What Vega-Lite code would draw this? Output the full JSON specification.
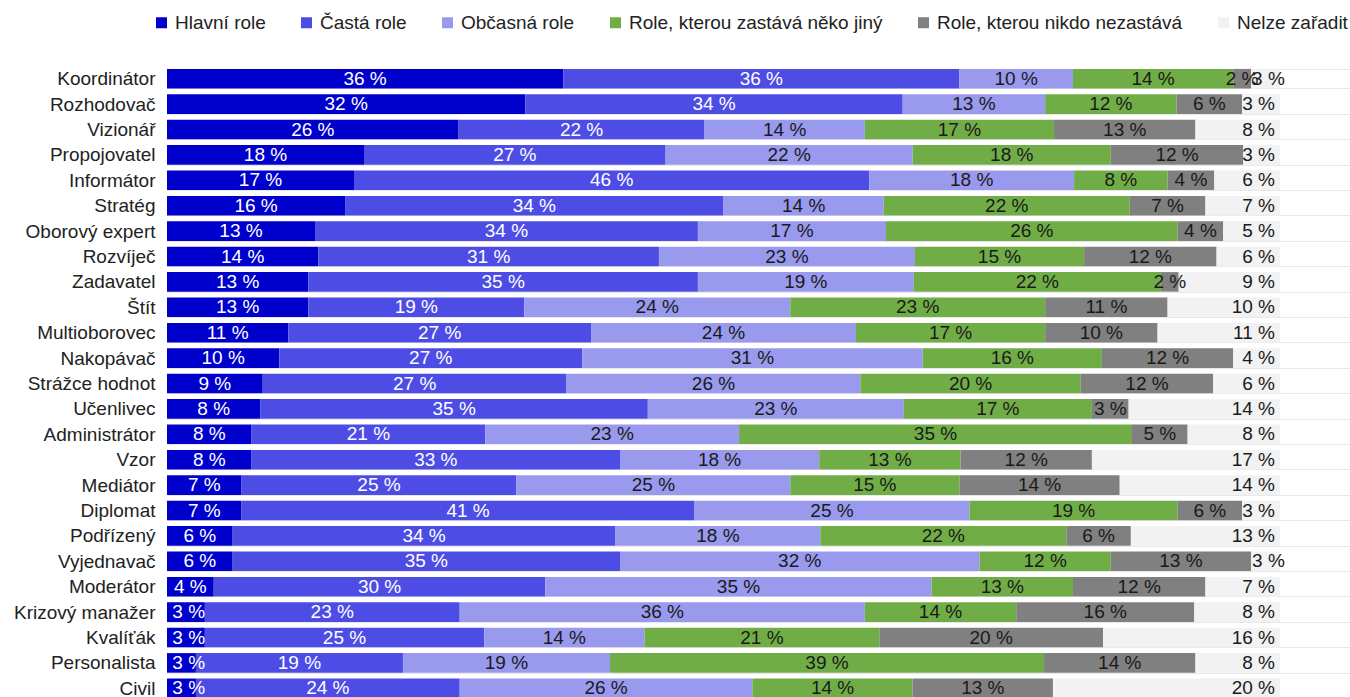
{
  "$schema": "https://vega.github.io/schema/vega-lite/v6.json",
  "autosize": {"type": "none"},
  "padding": {"left": 167, "top": 66, "right": 0, "bottom": 0},
  "width": 1183,
  "height": 635,
  "background": "white",
  "config": {"view": {"stroke": null}, "font": "Liberation Sans"},
  "datasets": {
    "roles": [
      {"r": "Koordinátor", "k": "Hlavní role", "v": 35.6}, {"r": "Koordinátor", "k": "Častá role", "v": 35.6}, {"r": "Koordinátor", "k": "Občasná role", "v": 10.2}, {"r": "Koordinátor", "k": "Role, kterou zastává něko jiný", "v": 14.4}, {"r": "Koordinátor", "k": "Role, kterou nikdo nezastává", "v": 1.6}, {"r": "Koordinátor", "k": "Nelze zařadit", "v": 2.6},
      {"r": "Rozhodovač", "k": "Hlavní role", "v": 32.2}, {"r": "Rozhodovač", "k": "Častá role", "v": 33.9}, {"r": "Rozhodovač", "k": "Občasná role", "v": 12.8}, {"r": "Rozhodovač", "k": "Role, kterou zastává něko jiný", "v": 11.8}, {"r": "Rozhodovač", "k": "Role, kterou nikdo nezastává", "v": 5.9}, {"r": "Rozhodovač", "k": "Nelze zařadit", "v": 3.4},
      {"r": "Vizionář", "k": "Hlavní role", "v": 26.2}, {"r": "Vizionář", "k": "Častá role", "v": 22.1}, {"r": "Vizionář", "k": "Občasná role", "v": 14.4}, {"r": "Vizionář", "k": "Role, kterou zastává něko jiný", "v": 17.0}, {"r": "Vizionář", "k": "Role, kterou nikdo nezastává", "v": 12.7}, {"r": "Vizionář", "k": "Nelze zařadit", "v": 7.6},
      {"r": "Propojovatel", "k": "Hlavní role", "v": 17.7}, {"r": "Propojovatel", "k": "Častá role", "v": 27.1}, {"r": "Propojovatel", "k": "Občasná role", "v": 22.2}, {"r": "Propojovatel", "k": "Role, kterou zastává něko jiný", "v": 17.8}, {"r": "Propojovatel", "k": "Role, kterou nikdo nezastává", "v": 11.9}, {"r": "Propojovatel", "k": "Nelze zařadit", "v": 3.3},
      {"r": "Informátor", "k": "Hlavní role", "v": 16.8}, {"r": "Informátor", "k": "Častá role", "v": 46.3}, {"r": "Informátor", "k": "Občasná role", "v": 18.4}, {"r": "Informátor", "k": "Role, kterou zastává něko jiný", "v": 8.4}, {"r": "Informátor", "k": "Role, kterou nikdo nezastává", "v": 4.2}, {"r": "Informátor", "k": "Nelze zařadit", "v": 5.9},
      {"r": "Stratég", "k": "Hlavní role", "v": 16.0}, {"r": "Stratég", "k": "Častá role", "v": 34.0}, {"r": "Stratég", "k": "Občasná role", "v": 14.4}, {"r": "Stratég", "k": "Role, kterou zastává něko jiný", "v": 22.1}, {"r": "Stratég", "k": "Role, kterou nikdo nezastává", "v": 6.8}, {"r": "Stratég", "k": "Nelze zařadit", "v": 6.7},
      {"r": "Oborový expert", "k": "Hlavní role", "v": 13.3}, {"r": "Oborový expert", "k": "Častá role", "v": 34.4}, {"r": "Oborový expert", "k": "Občasná role", "v": 16.9}, {"r": "Oborový expert", "k": "Role, kterou zastává něko jiný", "v": 26.2}, {"r": "Oborový expert", "k": "Role, kterou nikdo nezastává", "v": 4.1}, {"r": "Oborový expert", "k": "Nelze zařadit", "v": 5.1},
      {"r": "Rozvíječ", "k": "Hlavní role", "v": 13.6}, {"r": "Rozvíječ", "k": "Častá role", "v": 30.6}, {"r": "Rozvíječ", "k": "Občasná role", "v": 23.0}, {"r": "Rozvíječ", "k": "Role, kterou zastává něko jiný", "v": 15.2}, {"r": "Rozvíječ", "k": "Role, kterou nikdo nezastává", "v": 11.9}, {"r": "Rozvíječ", "k": "Nelze zařadit", "v": 5.7},
      {"r": "Zadavatel", "k": "Hlavní role", "v": 12.7}, {"r": "Zadavatel", "k": "Častá role", "v": 35.0}, {"r": "Zadavatel", "k": "Občasná role", "v": 19.4}, {"r": "Zadavatel", "k": "Role, kterou zastává něko jiný", "v": 22.2}, {"r": "Zadavatel", "k": "Role, kterou nikdo nezastává", "v": 1.6}, {"r": "Zadavatel", "k": "Nelze zařadit", "v": 9.1},
      {"r": "Štít", "k": "Hlavní role", "v": 12.7}, {"r": "Štít", "k": "Častá role", "v": 19.4}, {"r": "Štít", "k": "Občasná role", "v": 23.9}, {"r": "Štít", "k": "Role, kterou zastává něko jiný", "v": 22.9}, {"r": "Štít", "k": "Role, kterou nikdo nezastává", "v": 11.0}, {"r": "Štít", "k": "Nelze zařadit", "v": 10.1},
      {"r": "Multioborovec", "k": "Hlavní role", "v": 10.9}, {"r": "Multioborovec", "k": "Častá role", "v": 27.2}, {"r": "Multioborovec", "k": "Občasná role", "v": 23.8}, {"r": "Multioborovec", "k": "Role, kterou zastává něko jiný", "v": 17.0}, {"r": "Multioborovec", "k": "Role, kterou nikdo nezastává", "v": 10.1}, {"r": "Multioborovec", "k": "Nelze zařadit", "v": 11.0},
      {"r": "Nakopávač", "k": "Hlavní role", "v": 10.1}, {"r": "Nakopávač", "k": "Častá role", "v": 27.2}, {"r": "Nakopávač", "k": "Občasná role", "v": 30.6}, {"r": "Nakopávač", "k": "Role, kterou zastává něko jiný", "v": 16.1}, {"r": "Nakopávač", "k": "Role, kterou nikdo nezastává", "v": 11.8}, {"r": "Nakopávač", "k": "Nelze zařadit", "v": 4.2},
      {"r": "Strážce hodnot", "k": "Hlavní role", "v": 8.6}, {"r": "Strážce hodnot", "k": "Častá role", "v": 27.3}, {"r": "Strážce hodnot", "k": "Občasná role", "v": 26.4}, {"r": "Strážce hodnot", "k": "Role, kterou zastává něko jiný", "v": 19.8}, {"r": "Strážce hodnot", "k": "Role, kterou nikdo nezastává", "v": 11.9}, {"r": "Strážce hodnot", "k": "Nelze zařadit", "v": 6.0},
      {"r": "Učenlivec", "k": "Hlavní role", "v": 8.4}, {"r": "Učenlivec", "k": "Častá role", "v": 34.8}, {"r": "Učenlivec", "k": "Občasná role", "v": 23.0}, {"r": "Učenlivec", "k": "Role, kterou zastává něko jiný", "v": 16.9}, {"r": "Učenlivec", "k": "Role, kterou nikdo nezastává", "v": 3.3}, {"r": "Učenlivec", "k": "Nelze zařadit", "v": 13.6},
      {"r": "Administrátor", "k": "Hlavní role", "v": 7.6}, {"r": "Administrátor", "k": "Častá role", "v": 21.0}, {"r": "Administrátor", "k": "Občasná role", "v": 22.8}, {"r": "Administrátor", "k": "Role, kterou zastává něko jiný", "v": 35.3}, {"r": "Administrátor", "k": "Role, kterou nikdo nezastává", "v": 5.0}, {"r": "Administrátor", "k": "Nelze zařadit", "v": 8.3},
      {"r": "Vzor", "k": "Hlavní role", "v": 7.6}, {"r": "Vzor", "k": "Častá role", "v": 33.1}, {"r": "Vzor", "k": "Občasná role", "v": 17.9}, {"r": "Vzor", "k": "Role, kterou zastává něko jiný", "v": 12.7}, {"r": "Vzor", "k": "Role, kterou nikdo nezastává", "v": 11.8}, {"r": "Vzor", "k": "Nelze zařadit", "v": 16.9},
      {"r": "Mediátor", "k": "Hlavní role", "v": 6.7}, {"r": "Mediátor", "k": "Častá role", "v": 24.7}, {"r": "Mediátor", "k": "Občasná role", "v": 24.6}, {"r": "Mediátor", "k": "Role, kterou zastává něko jiný", "v": 15.2}, {"r": "Mediátor", "k": "Role, kterou nikdo nezastává", "v": 14.4}, {"r": "Mediátor", "k": "Nelze zařadit", "v": 14.4},
      {"r": "Diplomat", "k": "Hlavní role", "v": 6.7}, {"r": "Diplomat", "k": "Častá role", "v": 40.7}, {"r": "Diplomat", "k": "Občasná role", "v": 24.7}, {"r": "Diplomat", "k": "Role, kterou zastává něko jiný", "v": 18.7}, {"r": "Diplomat", "k": "Role, kterou nikdo nezastává", "v": 5.8}, {"r": "Diplomat", "k": "Nelze zařadit", "v": 3.4},
      {"r": "Podřízený", "k": "Hlavní role", "v": 5.9}, {"r": "Podřízený", "k": "Častá role", "v": 34.4}, {"r": "Podřízený", "k": "Občasná role", "v": 18.4}, {"r": "Podřízený", "k": "Role, kterou zastává něko jiný", "v": 22.1}, {"r": "Podřízený", "k": "Role, kterou nikdo nezastává", "v": 5.8}, {"r": "Podřízený", "k": "Nelze zařadit", "v": 13.4},
      {"r": "Vyjednavač", "k": "Hlavní role", "v": 5.9}, {"r": "Vyjednavač", "k": "Častá role", "v": 34.8}, {"r": "Vyjednavač", "k": "Občasná role", "v": 32.3}, {"r": "Vyjednavač", "k": "Role, kterou zastává něko jiný", "v": 11.8}, {"r": "Vyjednavač", "k": "Role, kterou nikdo nezastává", "v": 12.6}, {"r": "Vyjednavač", "k": "Nelze zařadit", "v": 2.6},
      {"r": "Moderátor", "k": "Hlavní role", "v": 4.2}, {"r": "Moderátor", "k": "Častá role", "v": 29.8}, {"r": "Moderátor", "k": "Občasná role", "v": 34.7}, {"r": "Moderátor", "k": "Role, kterou zastává něko jiný", "v": 12.7}, {"r": "Moderátor", "k": "Role, kterou nikdo nezastává", "v": 11.9}, {"r": "Moderátor", "k": "Nelze zařadit", "v": 6.7},
      {"r": "Krizový manažer", "k": "Hlavní role", "v": 3.4}, {"r": "Krizový manažer", "k": "Častá role", "v": 22.9}, {"r": "Krizový manažer", "k": "Občasná role", "v": 36.4}, {"r": "Krizový manažer", "k": "Role, kterou zastává něko jiný", "v": 13.6}, {"r": "Krizový manažer", "k": "Role, kterou nikdo nezastává", "v": 16.0}, {"r": "Krizový manažer", "k": "Nelze zařadit", "v": 7.7},
      {"r": "Kvalíťák", "k": "Hlavní role", "v": 3.4}, {"r": "Kvalíťák", "k": "Častá role", "v": 25.1}, {"r": "Kvalíťák", "k": "Občasná role", "v": 14.4}, {"r": "Kvalíťák", "k": "Role, kterou zastává něko jiný", "v": 21.1}, {"r": "Kvalíťák", "k": "Role, kterou nikdo nezastává", "v": 20.1}, {"r": "Kvalíťák", "k": "Nelze zařadit", "v": 15.9},
      {"r": "Personalista", "k": "Hlavní role", "v": 2.6}, {"r": "Personalista", "k": "Častá role", "v": 18.6}, {"r": "Personalista", "k": "Občasná role", "v": 18.6}, {"r": "Personalista", "k": "Role, kterou zastává něko jiný", "v": 39.0}, {"r": "Personalista", "k": "Role, kterou nikdo nezastává", "v": 13.6}, {"r": "Personalista", "k": "Nelze zařadit", "v": 7.6},
      {"r": "Civil", "k": "Hlavní role", "v": 2.6}, {"r": "Civil", "k": "Častá role", "v": 23.7}, {"r": "Civil", "k": "Občasná role", "v": 26.3}, {"r": "Civil", "k": "Role, kterou zastává něko jiný", "v": 14.4}, {"r": "Civil", "k": "Role, kterou nikdo nezastává", "v": 12.6}, {"r": "Civil", "k": "Nelze zařadit", "v": 20.4}
    ]
  },
  "data": {"name": "roles"},
  "transform": [
    {"calculate": "indexof(['Hlavní role','Častá role','Občasná role','Role, kterou zastává něko jiný','Role, kterou nikdo nezastává','Nelze zařadit'], datum.k)", "as": "ord"},
    {"stack": "v", "groupby": ["r"], "sort": [{"field": "ord", "order": "ascending"}], "offset": "normalize", "as": ["x0", "x1"]},
    {"calculate": "datum.ord == 0 ? max((datum.x0 + datum.x1) / 2, 0.0195) : (datum.x0 + datum.x1) / 2", "as": "xm"},
    {"calculate": "format(datum.v, '.0f') + ' %'", "as": "lab"}
  ],
  "encoding": {
    "y": {
      "field": "r", "type": "nominal", "sort": null,
      "scale": {"paddingInner": 0.23, "paddingOuter": 0.115},
      "axis": {"title": null, "domain": false, "ticks": false, "labelPadding": 12, "labelFontSize": 19, "labelFont": "Liberation Sans", "labelColor": "#222222", "labelLimit": 300, "grid": true, "gridColor": "#e8e8e8", "tickBand": "extent"}
    }
  },
  "layer": [
    {
      "mark": {"type": "bar"},
      "encoding": {
        "x": {"field": "x0", "type": "quantitative", "scale": {"domain": [0, 1.0629], "nice": false}, "axis": null},
        "x2": {"field": "x1"},
        "color": {
          "field": "k", "type": "nominal",
          "scale": {"domain": ["Hlavní role", "Častá role", "Občasná role", "Role, kterou zastává něko jiný", "Role, kterou nikdo nezastává", "Nelze zařadit"], "range": ["#0000cc", "#4d4de6", "#9999ee", "#70ad47", "#808080", "#f2f2f2"]},
          "legend": {"orient": "none", "legendX": -15, "legendY": -53, "direction": "horizontal", "columns": 6, "title": null, "symbolType": "square", "symbolSize": 121, "symbolStrokeWidth": 0, "labelFontSize": 19, "labelFont": "Liberation Sans", "labelColor": "#222222", "labelOffset": 4, "columnPadding": 31, "labelLimit": 400}
        }
      }
    },
    {
      "transform": [{"filter": "datum.ord <= 1"}],
      "mark": {"type": "text", "color": "#ffffff", "fontSize": 19, "font": "Liberation Sans", "baseline": "middle", "align": "center"},
      "encoding": {"x": {"field": "xm", "type": "quantitative", "scale": {"domain": [0, 1.0629], "nice": false}}, "text": {"field": "lab"}}
    },
    {
      "transform": [{"filter": "datum.ord >= 2 && datum.ord <= 4"}],
      "mark": {"type": "text", "color": "#1a1a1a", "fontSize": 19, "font": "Liberation Sans", "baseline": "middle", "align": "center"},
      "encoding": {"x": {"field": "xm", "type": "quantitative", "scale": {"domain": [0, 1.0629], "nice": false}}, "text": {"field": "lab"}}
    },
    {
      "transform": [{"filter": "datum.ord == 5 && datum.v >= 3"}],
      "mark": {"type": "text", "color": "#1a1a1a", "fontSize": 19, "font": "Liberation Sans", "baseline": "middle", "align": "right", "dx": -5},
      "encoding": {"x": {"field": "x1", "type": "quantitative", "scale": {"domain": [0, 1.0629], "nice": false}}, "text": {"field": "lab"}}
    },
    {
      "transform": [{"filter": "datum.ord == 5 && datum.v < 3"}],
      "mark": {"type": "text", "color": "#1a1a1a", "fontSize": 19, "font": "Liberation Sans", "baseline": "middle", "align": "left", "dx": 1},
      "encoding": {"x": {"field": "x0", "type": "quantitative", "scale": {"domain": [0, 1.0629], "nice": false}}, "text": {"field": "lab"}}
    }
  ]
}
